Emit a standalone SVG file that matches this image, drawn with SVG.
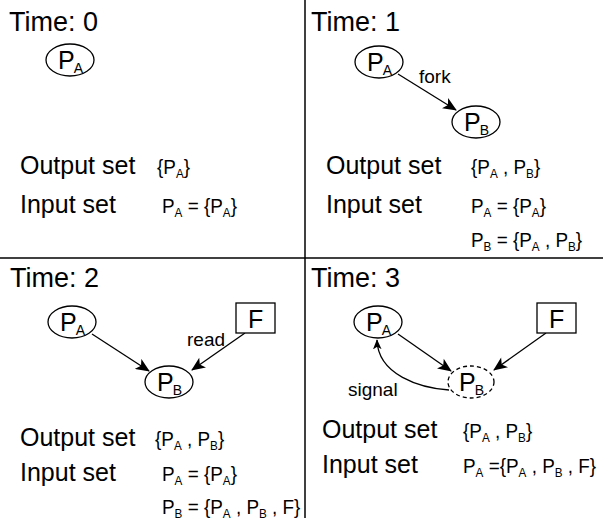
<svg xmlns="http://www.w3.org/2000/svg" width="603" height="521" viewBox="0 0 603 521">
<style>
text{font-family:"Liberation Sans",Arial,sans-serif;fill:#000}
.title{font-size:27px}
.lab{font-size:25px}
.set{font-size:21px}
.sub{font-size:13px}
.np{font-size:25px}
.nsub{font-size:14px}
.edge{font-size:19px}
.node{fill:#fff;stroke:#000;stroke-width:1.3}
.dash{stroke-dasharray:4 3}
.conn{fill:none;stroke:#000;stroke-width:1.3}
.grid{stroke:#000;stroke-width:1.5}
</style>
<defs>
<marker id="ah" viewBox="0 0 14 12" refX="13" refY="6" markerWidth="15" markerHeight="12" markerUnits="userSpaceOnUse" orient="auto">
<path d="M0,0 L14,6 L0,12 L3.5,6 z" fill="#000"/>
</marker>
<marker id="ahs" viewBox="0 0 14 12" refX="13" refY="6" markerWidth="10" markerHeight="9" markerUnits="userSpaceOnUse" orient="auto">
<path d="M0,0 L14,6 L0,12 L3.5,6 z" fill="#000"/>
</marker>
</defs>
<rect width="603" height="521" fill="#fff"/>
<g id="grid">
<line class="grid" x1="0" y1="258" x2="603" y2="258"/>
<line class="grid" x1="305" y1="0" x2="305" y2="518"/>
</g>

<g id="connectors">
<line class="conn" x1="398" y1="74" x2="456" y2="110" marker-end="url(#ah)"/>
<line class="conn" x1="92" y1="334" x2="149" y2="371" marker-end="url(#ah)"/>
<line class="conn" x1="245" y1="333" x2="192" y2="370" marker-end="url(#ah)"/>
<line class="conn" x1="398" y1="334" x2="451" y2="371" marker-end="url(#ah)"/>
<line class="conn" x1="546" y1="333" x2="494" y2="370" marker-end="url(#ah)"/>
<path class="conn" d="M449,390 C420,388 378,375 377,340" marker-end="url(#ahs)"/>
<text class="edge" x="419" y="83">fork</text>
<text class="edge" x="187" y="346">read</text>
<text class="edge" x="348" y="396">signal</text>
</g>

<!-- Panel 0 -->
<g id="t0">
<text class="title" x="9" y="31">Time: 0</text>
</g>
<g id="p0-PA">
<ellipse class="node" cx="70" cy="60" rx="24" ry="16"/>
<text class="np" x="58" y="69">P<tspan class="nsub" dx="-1" dy="4">A</tspan></text>
</g>
<g id="p0-sets">
<text class="lab" x="20" y="174">Output set</text>
<text class="set" transform="translate(157,174) scale(0.9,1)">{P<tspan class="sub" dy="4">A</tspan><tspan dy="-4">}</tspan></text>
<text class="lab" x="20" y="213">Input set</text>
<text class="set" transform="translate(162,213) scale(0.9,1)">P<tspan class="sub" dy="4">A</tspan><tspan dy="-4"> = {P</tspan><tspan class="sub" dy="4">A</tspan><tspan dy="-4">}</tspan></text>
</g>

<!-- Panel 1 -->
<g id="t1">
<text class="title" x="311" y="31">Time: 1</text>
</g>
<g id="p1-PA">
<ellipse class="node" cx="379" cy="62" rx="24" ry="16"/>
<text class="np" x="367" y="71">P<tspan class="nsub" dx="-1" dy="4">A</tspan></text>
</g>
<g id="p1-PB">
<ellipse class="node" cx="476" cy="122" rx="24" ry="16"/>
<text class="np" x="464" y="131">P<tspan class="nsub" dx="-1" dy="4">B</tspan></text>
</g>
<g id="p1-sets">
<text class="lab" x="326" y="174">Output set</text>
<text class="set" transform="translate(471,174) scale(0.9,1)">{P<tspan class="sub" dy="4">A</tspan><tspan dy="-4"> , P</tspan><tspan class="sub" dy="4">B</tspan><tspan dy="-4">}</tspan></text>
<text class="lab" x="326" y="213">Input set</text>
<text class="set" transform="translate(471,213) scale(0.9,1)">P<tspan class="sub" dy="4">A</tspan><tspan dy="-4"> = {P</tspan><tspan class="sub" dy="4">A</tspan><tspan dy="-4">}</tspan></text>
<text class="set" transform="translate(471,247) scale(0.9,1)">P<tspan class="sub" dy="4">B</tspan><tspan dy="-4"> = {P</tspan><tspan class="sub" dy="4">A</tspan><tspan dy="-4"> , P</tspan><tspan class="sub" dy="4">B</tspan><tspan dy="-4">}</tspan></text>
</g>

<!-- Panel 2 -->
<g id="t2">
<text class="title" x="10" y="287">Time: 2</text>
</g>
<g id="p2-PA">
<ellipse class="node" cx="72" cy="322" rx="24" ry="16"/>
<text class="np" x="60" y="331">P<tspan class="nsub" dx="-1" dy="4">A</tspan></text>
</g>
<g id="p2-F">
<rect class="node" x="236" y="303" width="39" height="30"/>
<text class="np" x="248" y="328">F</text>
</g>
<g id="p2-PB">
<ellipse class="node" cx="169" cy="382" rx="24" ry="16"/>
<text class="np" x="157" y="391">P<tspan class="nsub" dx="-1" dy="4">B</tspan></text>
</g>
<g id="p2-sets">
<text class="lab" x="20" y="446">Output set</text>
<text class="set" transform="translate(155,446) scale(0.9,1)">{P<tspan class="sub" dy="4">A</tspan><tspan dy="-4"> , P</tspan><tspan class="sub" dy="4">B</tspan><tspan dy="-4">}</tspan></text>
<text class="lab" x="20" y="481">Input set</text>
<text class="set" transform="translate(162,481) scale(0.9,1)">P<tspan class="sub" dy="4">A</tspan><tspan dy="-4"> = {P</tspan><tspan class="sub" dy="4">A</tspan><tspan dy="-4">}</tspan></text>
<text class="set" transform="translate(162,514) scale(0.9,1)">P<tspan class="sub" dy="4">B</tspan><tspan dy="-4"> = {P</tspan><tspan class="sub" dy="4">A</tspan><tspan dy="-4"> , P</tspan><tspan class="sub" dy="4">B</tspan><tspan dy="-4"> , F}</tspan></text>
</g>

<!-- Panel 3 -->
<g id="t3">
<text class="title" x="311" y="287">Time: 3</text>
</g>
<g id="p3-PA">
<ellipse class="node" cx="378" cy="322" rx="24" ry="16"/>
<text class="np" x="366" y="331">P<tspan class="nsub" dx="-1" dy="4">A</tspan></text>
</g>
<g id="p3-F">
<rect class="node" x="537" y="303" width="39" height="30"/>
<text class="np" x="549" y="328">F</text>
</g>
<g id="p3-PB">
<ellipse class="node dash" cx="471" cy="382" rx="23" ry="16"/>
<text class="np" x="459" y="391">P<tspan class="nsub" dx="-1" dy="4">B</tspan></text>
</g>
<g id="p3-sets">
<text class="lab" x="322" y="438">Output set</text>
<text class="set" transform="translate(463,438) scale(0.9,1)">{P<tspan class="sub" dy="4">A</tspan><tspan dy="-4"> , P</tspan><tspan class="sub" dy="4">B</tspan><tspan dy="-4">}</tspan></text>
<text class="lab" x="322" y="473">Input set</text>
<text class="set" transform="translate(463,473) scale(0.9,1)">P<tspan class="sub" dy="4">A</tspan><tspan dy="-4"> ={P</tspan><tspan class="sub" dy="4">A</tspan><tspan dy="-4"> , P</tspan><tspan class="sub" dy="4">B</tspan><tspan dy="-4"> , F}</tspan></text>
</g>
</svg>
